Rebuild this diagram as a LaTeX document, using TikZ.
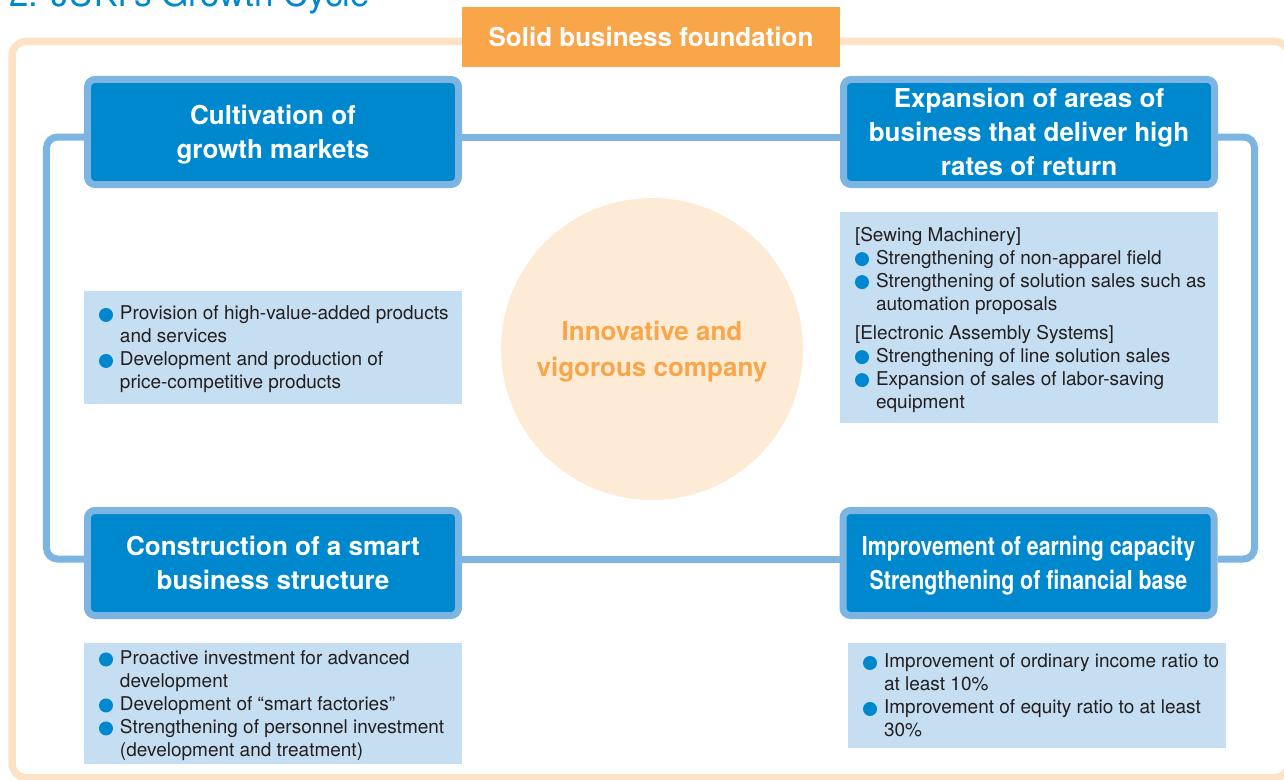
\documentclass[tikz,border=0pt]{standalone}
\usepackage{fontspec}
\setmainfont{TeX Gyre Heros}
\newfontfamily\etroit[FakeStretch=0.82]{TeX Gyre Heros}
\usepackage{xcolor}
\usepackage{tikz}
\usetikzlibrary{positioning}

\definecolor{bleufonce}{HTML}{0088CE}
\definecolor{bleuclair}{HTML}{7CB5E2}
\definecolor{bleupale}{HTML}{C6DEF1}
\definecolor{orangevif}{HTML}{F9A64B}
\definecolor{peche}{HTML}{FDE3C5}
\definecolor{creme}{HTML}{FDEBD6}
\definecolor{gristexte}{HTML}{231F20}

\newcommand{\puce}{\makebox[21bp][l]{\tikz[baseline=-5bp]\fill[bleufonce] (0,0) circle[radius=7bp];}}
\newcommand{\retrait}{\hspace*{21bp}}

\begin{document}
\begin{tikzpicture}[x=1bp, y=-1bp, on grid,
        titre/.style={text=bleufonce, inner sep=0pt, font={\fontsize{35bp}{40bp}\selectfont}},
        cadre/.style={draw=peche, line width=7.5bp, rounded corners=14bp},
        socle/.style={fill=orangevif, text=white, minimum width=378bp, minimum height=60bp,
            font={\fontsize{26bp}{30bp}\selectfont\bfseries}},
        etape/.style={fill=bleufonce, draw=bleuclair, line width=7bp, rounded corners=7.5bp,
            text=white, align=center, inner sep=0pt, text depth=0pt,
            minimum width=371bp, minimum height=105bp,
            font={\fontsize{26bp}{34bp}\selectfont\bfseries}},
        boucle/.style={draw=bleuclair, line width=7bp, rounded corners=11bp},
        encadre/.style={fill=bleupale, minimum width=378bp, inner sep=0pt},
        liste/.style={text=gristexte, align=left, inner sep=0pt, text depth=0pt,
            font={\fontsize{19bp}{23bp}\selectfont}},
        noyau/.style={circle, fill=creme, minimum size=302bp, text=orangevif, align=center,
            text depth=0pt, font={\fontsize{26bp}{36bp}\selectfont\bfseries}}]

    % Cadre et titre
    \useasboundingbox (0,0) rectangle (1284,780);
    \node[titre, anchor=base west] (titre) at (9,7) {2. JUKI’s Growth Cycle};
    \draw[cadre] (12,41.5) rectangle (1289,777.5);
    \node[socle] (socle) at (651,37) {Solid business foundation};

    % Les quatre étapes du cycle
    \node[etape] (marches) at (273,132) {Cultivation of\\growth markets};
    \node[etape, right=756bp of marches] (rendement) {Expansion of areas of\\business that deliver high\\rates of return};
    \node[etape, below=431bp of marches] (structure) {Construction of a smart\\business structure};
    \node[etape, right=755.5bp of structure, font={\fontsize{26bp}{34bp}\selectfont\etroit\bfseries}] (rentabilite)
        {Improvement of earning capacity\\Strengthening of financial base};

    % Le cycle
    \draw[boucle] ([yshift=-5bp]marches.east) -- ([yshift=-5bp]rendement.west);
    \draw[boucle] ([yshift=-5bp]rendement.east) -- ++(36.5,0) |- ([yshift=4bp]rentabilite.east);
    \draw[boucle] ([yshift=4bp]rentabilite.west) -- ([yshift=4bp]structure.east);
    \draw[boucle] ([yshift=4bp]structure.west) -- ++(-37.5,0) |- ([yshift=-5bp]marches.west);

    % Le centre
    \node[noyau] (noyau) at (652,349) {Innovative and\\vigorous company};

    % Les encadrés
    \node[encadre, minimum height=113bp, below=215.5bp of marches] (encA) {};
    \node[liste, anchor=west] (listeA) at ([xshift=15bp]encA.west)
        {\puce Provision of high-value-added products\\
         \retrait and services\\
         \puce Development and production of\\
         \retrait price-competitive products};

    \node[encadre, minimum height=211bp, below=185.5bp of rendement] (encB) {};
    \node[liste, anchor=west] (listeB) at ([xshift=15bp]encB.west)
        {{[}Sewing Machinery{]}\\
         \puce Strengthening of non-apparel field\\
         \puce Strengthening of solution sales such as\\
         \retrait automation proposals\\[6bp]
         {[}Electronic Assembly Systems{]}\\
         \puce Strengthening of line solution sales\\
         \puce Expansion of sales of labor-saving\\
         \retrait equipment};

    \node[encadre, minimum height=121bp, below=140.5bp of structure] (encC) {};
    \node[liste, anchor=west] (listeC) at ([xshift=15bp]encC.west)
        {\puce Proactive investment for advanced\\
         \retrait development\\
         \puce Development of “smart factories”\\
         \puce Strengthening of personnel investment\\
         \retrait (development and treatment)};

    \node[encadre, minimum height=105bp, below right=132.5bp and 8.5bp of rentabilite] (encD) {};
    \node[liste, anchor=west] (listeD) at ([xshift=15bp]encD.west)
        {\puce Improvement of ordinary income ratio to\\
         \retrait at least 10\%\\
         \puce Improvement of equity ratio to at least\\
         \retrait 30\%};

\end{tikzpicture}
\end{document}
